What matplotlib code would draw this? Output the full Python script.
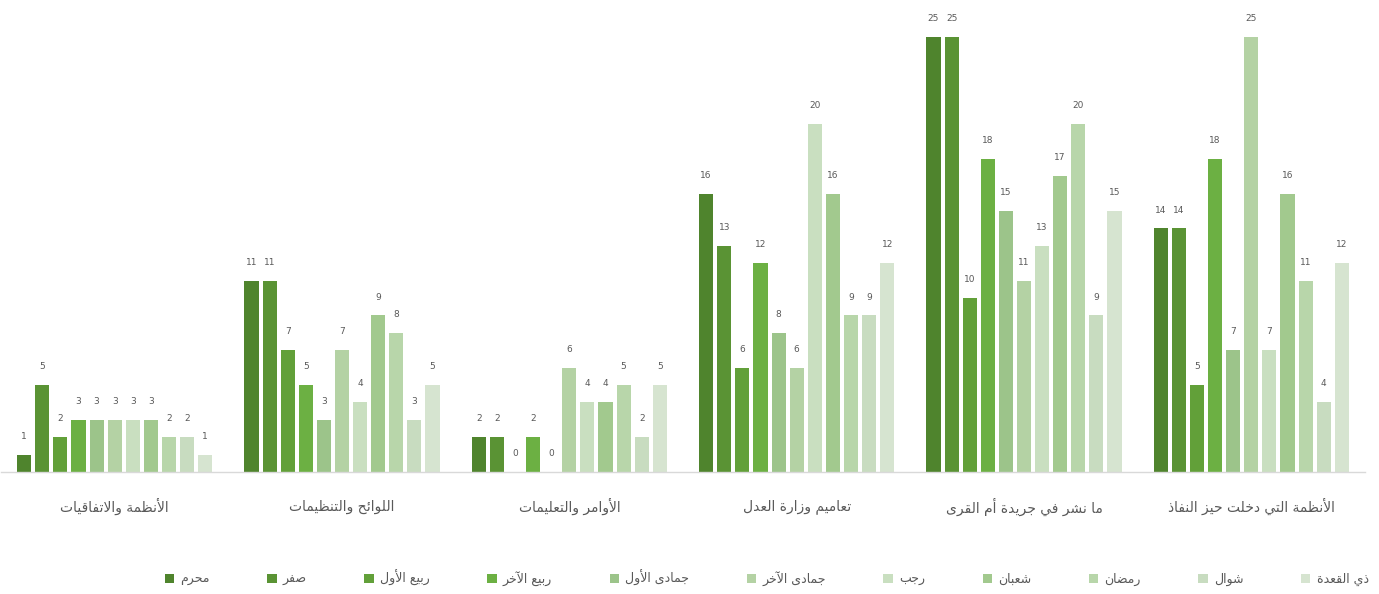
import numpy as np
import matplotlib
matplotlib.use("Agg")
import matplotlib.pyplot as plt
from matplotlib.patches import Patch

plt.rcParams['font.family'] = ['DejaVu Sans']

# ---- data (groups in display order, left -> right) ----
categories = [
    "الأنظمة والاتفاقيات",
    "اللوائح والتنظيمات",
    "الأوامر والتعليمات",
    "تعاميم وزارة العدل",
    "ما نشر في جريدة أم القرى",
    "الأنظمة التي دخلت حيز النفاذ",
]
months = ["محرم", "صفر", "ربيع الأول", "ربيع الآخر", "جمادى الأول", "جمادى الآخر",
          "رجب", "شعبان", "رمضان", "شوال", "ذي القعدة"]

muharram    = [1, 11, 2, 16, 25, 14]
safar       = [5, 11, 2, 13, 25, 14]
rabi1       = [2, 7, 0, 6, 10, 5]
rabi2       = [3, 5, 2, 12, 18, 18]
jumada1     = [3, 3, 0, 8, 15, 7]
jumada2     = [3, 7, 6, 6, 11, 25]
rajab       = [3, 4, 4, 20, 13, 7]
shaban      = [3, 9, 4, 16, 17, 16]
ramadan     = [2, 8, 5, 9, 20, 11]
shawwal     = [2, 3, 2, 9, 9, 4]
dhulqadah   = [1, 5, 5, 12, 15, 12]
series = [muharram, safar, rabi1, rabi2, jumada1, jumada2,
          rajab, shaban, ramadan, shawwal, dhulqadah]

colors = ["#4f842d", "#5a9334", "#62a039", "#6cb043", "#9cc48a", "#b4d2a4",
          "#c9dfc0", "#a2c98e", "#b8d6aa", "#c8dcc0", "#d6e4d0"]
TXT = "#595959"

# ---- minimal arabic shaping (matplotlib has no bidi/shaping) ----
_seq = [("ء", 1), ("آ", 2), ("أ", 2), ("ؤ", 2), ("إ", 2), ("ئ", 4), ("ا", 2),
        ("ب", 4), ("ة", 2), ("ت", 4), ("ث", 4), ("ج", 4), ("ح", 4), ("خ", 4),
        ("د", 2), ("ذ", 2), ("ر", 2), ("ز", 2), ("س", 4), ("ش", 4), ("ص", 4),
        ("ض", 4), ("ط", 4), ("ظ", 4), ("ع", 4), ("غ", 4), ("ف", 4), ("ق", 4),
        ("ك", 4), ("ل", 4), ("م", 4), ("ن", 4), ("ه", 4), ("و", 2), ("ى", 2),
        ("ي", 4)]
FORMS = {}
code = 0xFE80
for ch, n in _seq:
    FORMS[ch] = [chr(code + k) for k in range(n)]
    code += n
LIG = {"آ": 0xFEF5, "أ": 0xFEF7, "إ": 0xFEF9, "ا": 0xFEFB}
for a, c in LIG.items():
    FORMS["ل" + a] = [chr(c), chr(c + 1)]


def shape(text):
    toks = []
    i = 0
    while i < len(text):
        if text[i] == "ل" and i + 1 < len(text) and text[i + 1] in LIG:
            toks.append(text[i:i + 2])
            i += 2
        else:
            toks.append(text[i])
            i += 1
    out = []
    for j, t in enumerate(toks):
        if t not in FORMS:
            out.append(t)
            continue
        f = FORMS[t]
        prev = toks[j - 1] if j > 0 else None
        nxt = toks[j + 1] if j + 1 < len(toks) else None
        jp = prev in FORMS and len(FORMS[prev]) == 4
        jn = len(f) == 4 and nxt in FORMS
        if len(f) == 1:
            idx = 0
        elif jp and jn:
            idx = 3
        elif jp:
            idx = 1
        elif jn:
            idx = 2
        else:
            idx = 0
        out.append(f[idx])
    return "".join(out)[::-1]


# ---- figure ----
fig = plt.figure(figsize=(13.79, 5.94), dpi=100)
ax = fig.add_axes([1 / 1379, 122 / 594, 1364 / 1379, 461 / 594])

x = np.arange(len(categories))
n = len(series)
pitch = 0.0796
width = 0.062
for k, vals in enumerate(series):
    pos = x + (k - (n - 1) / 2) * pitch
    bars = ax.bar(pos, vals, width=width, color=colors[k], label=shape(months[k]), zorder=2)
    for b, v in zip(bars, vals):
        ax.text(b.get_x() + b.get_width() / 2, v + 0.8, str(v), ha="center", va="bottom",
                fontsize=6.5, color=TXT)

ax.set_xlim(-0.5, len(categories) - 0.5)
ax.set_ylim(0, 26.5)
ax.set_yticks([])
ax.set_xticks([])
for s in ["top", "right", "left"]:
    ax.spines[s].set_visible(False)
ax.spines["bottom"].set_color("#d9d9d9")
ax.spines["bottom"].set_linewidth(1)

for i, c in enumerate(categories):
    ax.text(i, -2.0, shape(c), ha="center", va="center", fontsize=10, color=TXT)

handles = [Patch(facecolor=colors[k], label=shape(months[k])) for k in range(n)]
fig.legend(handles=handles, loc="center", ncol=n, bbox_to_anchor=(0.556, 0.027),
           frameon=False, fontsize=9, handlelength=0.75, handleheight=0.75,
           handletextpad=0.5, columnspacing=4.6, labelcolor=TXT)

fig.savefig("out.png", dpi=100)
